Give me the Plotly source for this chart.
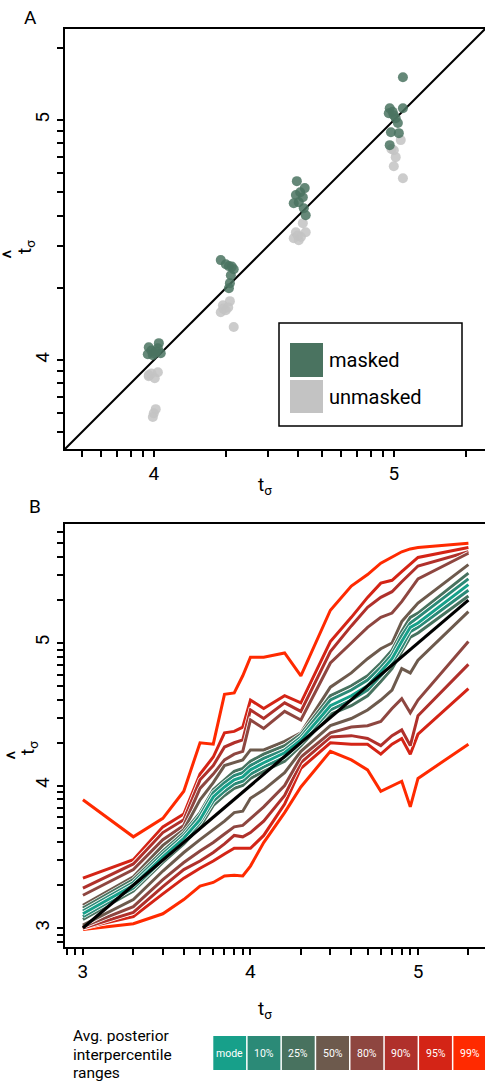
import plotly.graph_objects as go

W, H = 485, 1083

# ---------------- Panel A data (values in t = log10 sigma) ----------------
A_MASKED_X = [3.979, 4.021, 3.975, 4.000, 4.029, 4.017, 3.996, 3.990, 4.010,
              4.279, 4.313, 4.333, 4.321, 4.317, 4.313, 4.325, 4.300,
              4.596, 4.629, 4.592, 4.621, 4.583, 4.604, 4.625, 4.633, 4.610,
              5.038, 4.983, 5.038, 4.979, 5.000, 5.017, 4.988, 5.021, 4.983, 5.008, 4.995]
A_MASKED_Y = [4.054, 4.071, 4.025, 4.029, 4.029, 4.050, 4.021, 4.040, 4.035,
              4.417, 4.392, 4.379, 4.354, 4.321, 4.300, 4.390, 4.400,
              4.746, 4.717, 4.688, 4.679, 4.654, 4.658, 4.633, 4.604, 4.700,
              5.179, 5.050, 5.050, 5.029, 5.021, 4.988, 4.950, 4.946, 4.896, 5.008, 5.035]
A_UNMASKED_X = [3.979, 4.017, 4.004, 3.979, 4.008, 3.996, 4.000, 3.990,
                4.288, 4.317, 4.279, 4.300, 4.333, 4.290, 4.310,
                4.583, 4.613, 4.633, 4.592, 4.621, 4.604, 4.600,
                5.029, 5.000, 5.008, 5.000, 5.038, 4.990]
A_UNMASKED_Y = [3.933, 3.950, 3.925, 3.938, 3.796, 3.763, 3.779, 3.945,
                4.229, 4.246, 4.200, 4.208, 4.138, 4.215, 4.220,
                4.508, 4.513, 4.533, 4.533, 4.571, 4.500, 4.520,
                4.917, 4.875, 4.846, 4.808, 4.758, 4.880]
A_IDENTITY = [3.63, 5.38]
A_TICK_T = [3.699, 3.778, 3.845, 3.903, 3.954, 4.0, 4.301, 4.477, 4.602, 4.699,
            4.778, 4.845, 4.903, 4.954, 5.0, 5.301]

# ---------------- Panel B data ----------------
B_X = [3.0, 3.301, 3.477, 3.602, 3.699, 3.778, 3.845, 3.903, 3.954, 4.0, 4.079,
       4.204, 4.301, 4.477, 4.602, 4.699, 4.778, 4.845, 4.903, 4.954, 5.0, 5.301]
B_99U = [3.90, 3.64, 3.77, 3.96, 4.30, 4.29, 4.64, 4.65, 4.77, 4.90, 4.90, 4.93, 4.77, 5.23, 5.40, 5.48, 5.56, 5.60, 5.64, 5.66, 5.67, 5.70]
B_95U = [3.35, 3.48, 3.71, 3.80, 4.08, 4.20, 4.37, 4.38, 4.41, 4.60, 4.54, 4.63, 4.58, 5.01, 5.18, 5.32, 5.42, 5.44, 5.50, 5.55, 5.60, 5.67]
B_90U = [3.28, 3.45, 3.67, 3.76, 4.04, 4.14, 4.27, 4.30, 4.32, 4.53, 4.47, 4.58, 4.52, 4.94, 5.12, 5.25, 5.32, 5.36, 5.43, 5.49, 5.54, 5.64]
B_80U = [3.23, 3.41, 3.62, 3.72, 3.98, 4.08, 4.18, 4.22, 4.24, 4.46, 4.40, 4.52, 4.46, 4.86, 5.00, 5.11, 5.18, 5.21, 5.29, 5.37, 5.45, 5.63]
B_50U = [3.16, 3.36, 3.58, 3.69, 3.90, 4.02, 4.14, 4.16, 4.18, 4.25, 4.25, 4.31, 4.37, 4.69, 4.79, 4.89, 4.96, 5.00, 5.15, 5.22, 5.28, 5.55]
B_25U = [3.14, 3.34, 3.54, 3.67, 3.81, 3.97, 4.04, 4.10, 4.12, 4.17, 4.22, 4.28, 4.36, 4.63, 4.70, 4.77, 4.86, 4.95, 5.08, 5.18, 5.21, 5.49]
B_10U = [3.12, 3.32, 3.52, 3.65, 3.79, 3.95, 4.02, 4.07, 4.09, 4.14, 4.19, 4.25, 4.34, 4.60, 4.67, 4.74, 4.83, 4.92, 5.05, 5.14, 5.18, 5.45]
B_MODE = [3.10, 3.30, 3.50, 3.63, 3.76, 3.92, 3.99, 4.04, 4.06, 4.11, 4.16, 4.23, 4.32, 4.56, 4.63, 4.70, 4.80, 4.89, 5.01, 5.11, 5.14, 5.41]
B_10L = [3.08, 3.28, 3.48, 3.61, 3.74, 3.89, 3.96, 4.01, 4.03, 4.08, 4.13, 4.20, 4.30, 4.53, 4.60, 4.67, 4.77, 4.86, 4.97, 5.08, 5.11, 5.37]
B_25L = [3.06, 3.26, 3.46, 3.59, 3.71, 3.86, 3.93, 3.98, 4.00, 4.05, 4.10, 4.17, 4.28, 4.50, 4.56, 4.63, 4.73, 4.82, 4.94, 5.04, 5.07, 5.33]
B_50L = [3.02, 3.20, 3.40, 3.53, 3.62, 3.69, 3.75, 3.81, 3.82, 3.91, 3.97, 4.09, 4.24, 4.42, 4.47, 4.53, 4.60, 4.67, 4.82, 4.79, 4.88, 5.22]
B_80L = [3.01, 3.15, 3.34, 3.46, 3.54, 3.60, 3.66, 3.71, 3.72, 3.77, 3.85, 4.00, 4.20, 4.37, 4.41, 4.42, 4.45, 4.54, 4.61, 4.51, 4.60, 5.01]
B_90L = [3.00, 3.11, 3.29, 3.41, 3.47, 3.53, 3.59, 3.65, 3.64, 3.67, 3.75, 3.93, 4.16, 4.34, 4.35, 4.33, 4.28, 4.35, 4.39, 4.28, 4.49, 4.85]
B_95L = [3.00, 3.08, 3.24, 3.35, 3.42, 3.47, 3.52, 3.56, 3.56, 3.56, 3.65, 3.87, 4.12, 4.30, 4.29, 4.29, 4.22, 4.29, 4.33, 4.22, 4.36, 4.68]
B_99L = [2.99, 3.03, 3.10, 3.20, 3.295, 3.32, 3.365, 3.37, 3.365, 3.435, 3.60, 3.81, 3.99, 4.24, 4.18, 4.11, 3.96, 4.00, 4.03, 3.85, 4.05, 4.29]

B_XTICK_T = [2.903, 2.954, 3.0, 3.301, 3.477, 3.602, 3.699, 3.778, 3.845, 3.903, 3.954,
             4.0, 4.301, 4.477, 4.602, 4.699, 4.778, 4.845, 4.903, 4.954, 5.0, 5.301]
B_YTICK_T = [2.903, 2.954, 3.0, 3.301, 3.477, 3.602, 3.699, 3.778, 3.845, 3.903, 3.954,
             4.0, 4.301, 4.477, 4.602, 4.699, 4.778, 4.845, 4.903, 4.954, 5.0, 5.301,
             5.477, 5.602, 5.699, 5.778]
MAJOR_LABELS = {3.0: "3", 4.0: "4", 5.0: "5"}

LEGEND_TITLE = ["Avg. posterior", "interpercentile", "ranges"]
LEGEND_NAMES = ["mode", "10%", "25%", "50%", "80%", "90%", "95%", "99%"]
LEGEND_COLORS = ["#17a08a", "#2b8a77", "#48725f", "#6d5a4d", "#8e4640", "#b0302b", "#d42416", "#ff2a00"]

MASKED_COLOR = "#4a7360"
UNMASKED_COLOR = "#c3c3c3"

FONT = "Roboto"


def pw(t_list):
    return [10 ** t for t in t_list]


def ticktext(ts):
    return [MAJOR_LABELS.get(round(t, 3), "") for t in ts]


fig = go.Figure()

# ---- Panel A ----
fig.add_trace(go.Scatter(x=pw(A_IDENTITY), y=pw(A_IDENTITY), mode="lines",
                         line=dict(color="black", width=2), xaxis="x", yaxis="y",
                         showlegend=False, hoverinfo="skip"))
fig.add_trace(go.Scatter(x=pw(A_UNMASKED_X), y=pw(A_UNMASKED_Y), mode="markers",
                         marker=dict(color=UNMASKED_COLOR, size=10, opacity=0.85, line=dict(width=0)),
                         xaxis="x", yaxis="y", showlegend=False))
fig.add_trace(go.Scatter(x=pw(A_MASKED_X), y=pw(A_MASKED_Y), mode="markers",
                         marker=dict(color=MASKED_COLOR, size=10, opacity=0.85, line=dict(width=0)),
                         xaxis="x", yaxis="y", showlegend=False))

# ---- Panel B ----
series = [
    (B_99U, "#ff2a00"), (B_99L, "#ff2a00"),
    (B_95U, "#d42416"), (B_95L, "#d42416"),
    (B_90U, "#b0302b"), (B_90L, "#b0302b"),
    (B_80U, "#8e4640"), (B_80L, "#8e4640"),
    (B_50U, "#6d5a4d"), (B_50L, "#6d5a4d"),
    (B_25U, "#48725f"), (B_25L, "#48725f"),
    (B_10U, "#2b8a77"), (B_10L, "#2b8a77"),
    (B_MODE, "#17a08a"),
]
for ys, col in series:
    fig.add_trace(go.Scatter(x=pw(B_X), y=pw(ys), mode="lines",
                             line=dict(color="white", width=4.5), xaxis="x2", yaxis="y2",
                             showlegend=False, hoverinfo="skip"))
    fig.add_trace(go.Scatter(x=pw(B_X), y=pw(ys), mode="lines",
                             line=dict(color=col, width=3), xaxis="x2", yaxis="y2",
                             showlegend=False))
fig.add_trace(go.Scatter(x=pw(B_X), y=pw(B_X), mode="lines",
                         line=dict(color="black", width=3.2), xaxis="x2", yaxis="y2",
                         showlegend=False))


def PX(x):
    return x / W


def PY(y):
    return 1 - y / H


axis_common = dict(type="log", showline=True, linecolor="black", linewidth=2, mirror=True,
                   ticks="outside", ticklen=6, tickwidth=2, tickcolor="black",
                   showgrid=False, zeroline=False, automargin=False,
                   tickfont=dict(family=FONT, size=19, color="black"), tickmode="array")

fig.update_layout(
    width=W, height=H, margin=dict(l=0, r=0, t=0, b=0),
    plot_bgcolor="white", paper_bgcolor="white", template="none",
    showlegend=False,
    xaxis=dict(domain=[PX(65), 1.0], range=[3.63, 5.38], anchor="y",
               tickvals=pw(A_TICK_T), ticktext=ticktext(A_TICK_T), **axis_common),
    yaxis=dict(domain=[PY(449), PY(29)], range=[3.63, 5.38], anchor="x", tickangle=-90,
               tickvals=pw(A_TICK_T), ticktext=ticktext(A_TICK_T), **axis_common),
    xaxis2=dict(domain=[PX(65), 1.0], range=[2.893, 5.40], anchor="y2",
                tickvals=pw(B_XTICK_T), ticktext=ticktext(B_XTICK_T), **axis_common),
    yaxis2=dict(domain=[PY(947), PY(524)], range=[2.867, 5.835], anchor="x2", tickangle=-90,
                tickvals=pw(B_YTICK_T), ticktext=ticktext(B_YTICK_T), **axis_common),
)

shapes = []
annotations = []


def ann(x, y, text, size, **kw):
    d = dict(x=PX(x), y=PY(y), xref="paper", yref="paper", text=text, showarrow=False,
             xanchor="center", yanchor="middle",
             font=dict(family=FONT, size=size, color=kw.pop("color", "black")))
    d.update(kw)
    annotations.append(d)


# panel letters
ann(30, 18, "A", 19)
ann(35, 507, "B", 19)
# axis titles
ann(265, 486, "t<sub>σ</sub>", 19)
ann(25, 247, "t<sub>σ</sub>", 19, textangle=-90)
ann(13, 254, "^", 23, textangle=-90)
ann(265, 1009, "t<sub>σ</sub>", 19)
ann(28, 748, "t<sub>σ</sub>", 19, textangle=-90)
ann(16, 755, "^", 23, textangle=-90)

# Panel A legend
shapes.append(dict(type="rect", xref="paper", yref="paper", x0=PX(279), x1=PX(462),
                   y0=PY(426), y1=PY(323), line=dict(color="black", width=1.5), fillcolor="white"))
shapes.append(dict(type="rect", xref="paper", yref="paper", x0=PX(290), x1=PX(323),
                   y0=PY(377), y1=PY(343), line=dict(width=0), fillcolor=MASKED_COLOR))
shapes.append(dict(type="rect", xref="paper", yref="paper", x0=PX(290), x1=PX(323),
                   y0=PY(413), y1=PY(380), line=dict(width=0), fillcolor=UNMASKED_COLOR))
ann(327, 360, "masked", 20, xanchor="left")
ann(327, 397, "unmasked", 20, xanchor="left")

# Panel B legend
for j, line in enumerate(LEGEND_TITLE):
    ann(71, 1036 + j * 18.5, line, 15.5, xanchor="left")
x0 = 213.3
cw = 34.3
for i, (name, col) in enumerate(zip(LEGEND_NAMES, LEGEND_COLORS)):
    a = x0 + i * cw
    shapes.append(dict(type="rect", xref="paper", yref="paper", x0=PX(a), x1=PX(a + cw - 1.5),
                       y0=PY(1070), y1=PY(1036), line=dict(width=0), fillcolor=col))
    ann(a + (cw - 1.5) / 2, 1053, name, 10.5, color="white")

fig.update_layout(shapes=shapes, annotations=annotations)
for s in fig.layout.shapes:
    s.layer = "above"

fig.write_html("out.html")
